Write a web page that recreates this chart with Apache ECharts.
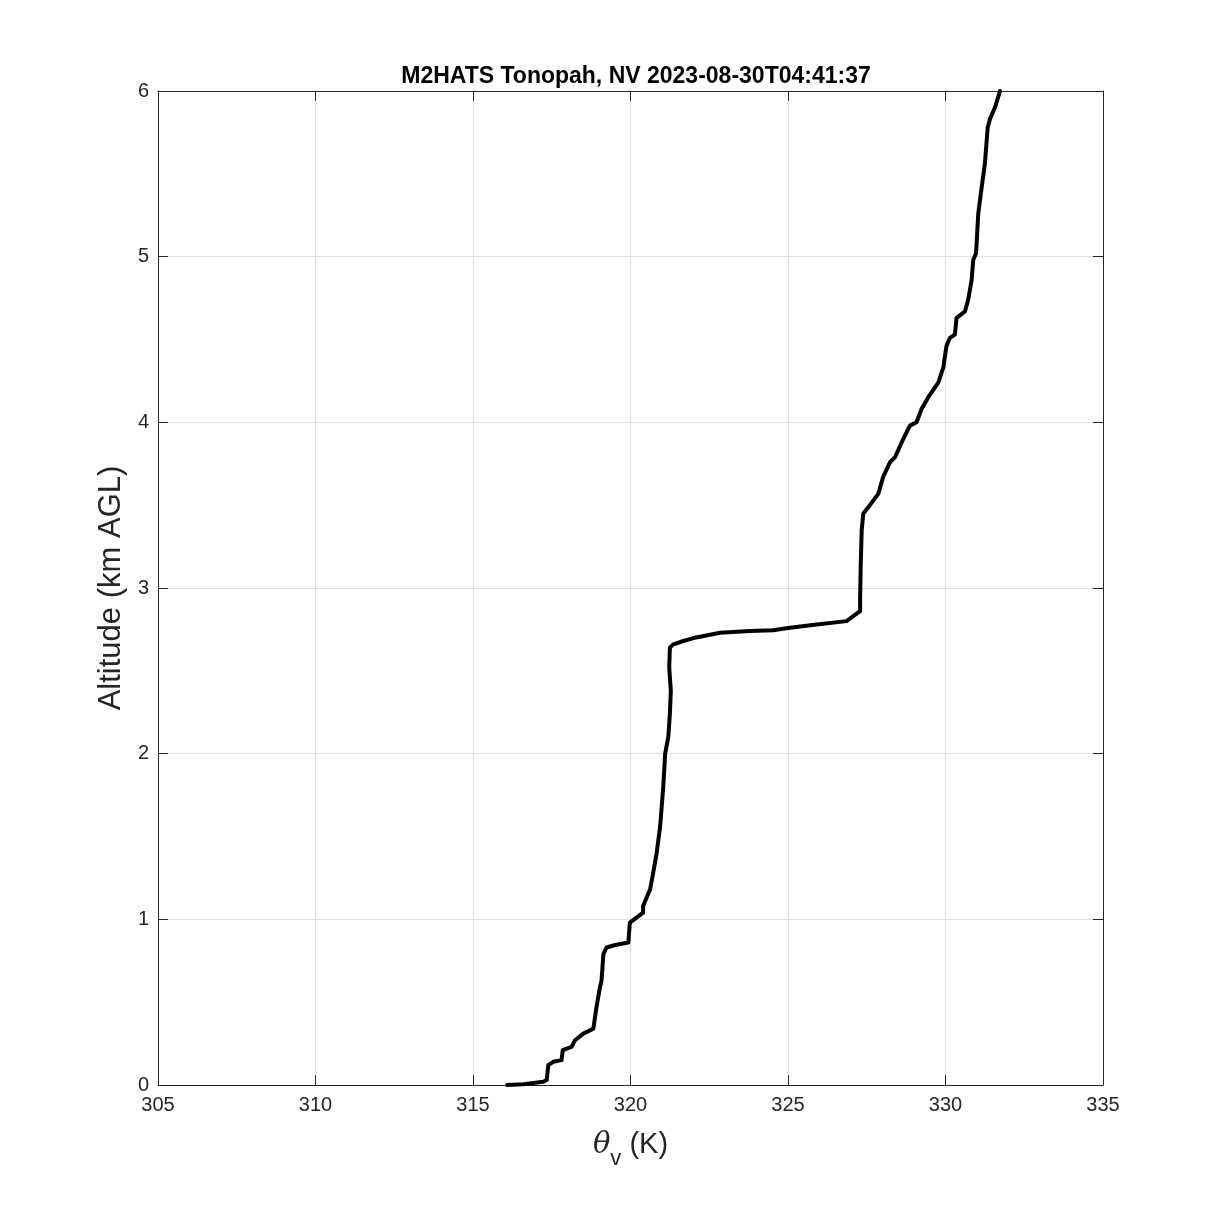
<!DOCTYPE html>
<html>
<head>
<meta charset="utf-8">
<script src="https://cdn.jsdelivr.net/npm/echarts@6/dist/echarts.min.js"></script>
<style>html,body{margin:0;padding:0;background:#fff}#c{width:1219px;height:1219px}</style>
</head>
<body>
<div id="c"></div>
<script>
var titleText = 'M2HATS Tonopah, NV 2023-08-30T04:41:37';
var xTicks = [305, 310, 315, 320, 325, 330, 335];
var yTicks = [0, 1, 2, 3, 4, 5, 6];
var theta = [316.09,316.6,317.23,317.34,317.39,317.55,317.81,317.85,318.13,318.24,318.50,318.82,318.87,318.92,319.03,319.08,319.14,319.24,319.51,319.93,319.98,320.19,320.40,320.40,320.51,320.62,320.72,320.83,320.94,321.04,321.10,321.20,321.25,321.28,321.23,321.25,321.36,321.68,322.05,322.84,323.79,324.53,325.06,325.91,326.86,327.07,327.29,327.29,327.31,327.34,327.39,327.60,327.87,328.02,328.24,328.40,328.61,328.87,329.08,329.24,329.45,329.77,329.93,330.03,330.14,330.30,330.35,330.62,330.72,330.83,330.88,330.97,331.04,331.15,331.25,331.34,331.41,331.57,331.73];
var altitude = [0.00,0.005,0.02,0.03,0.12,0.14,0.15,0.21,0.23,0.27,0.31,0.34,0.35,0.47,0.59,0.63,0.79,0.83,0.845,0.86,0.98,1.01,1.04,1.08,1.13,1.18,1.28,1.40,1.56,1.80,2.00,2.10,2.24,2.38,2.52,2.64,2.66,2.68,2.70,2.73,2.74,2.745,2.76,2.78,2.80,2.83,2.86,2.94,3.15,3.35,3.45,3.50,3.57,3.67,3.76,3.79,3.88,3.98,4.00,4.08,4.15,4.24,4.33,4.46,4.51,4.53,4.63,4.67,4.74,4.86,4.98,5.02,5.26,5.42,5.56,5.78,5.83,5.90,6.00];

var data = theta.map(function(t, i){ return [t, altitude[i]]; });
var font = 'Liberation Sans, Arial, Helvetica, sans-serif';
var axisCol = '#262626';
var chart = echarts.init(document.getElementById('c'));

function xAxisCfg(pos, show) {
  return {
    type: 'value', position: pos, min: xTicks[0], max: xTicks[xTicks.length-1], interval: 5,
    axisLine: {show: true, onZero: false, lineStyle: {color: axisCol, width: 1}},
    axisTick: {show: true, inside: true, length: 10, lineStyle: {color: axisCol}},
    axisLabel: {show: show, color: axisCol, fontSize: 20, fontFamily: font, margin: 10},
    splitLine: {show: show, lineStyle: {color: '#dfdfdf', width: 1}}
  };
}
function yAxisCfg(pos, show) {
  return {
    type: 'value', position: pos, min: yTicks[0], max: yTicks[yTicks.length-1], interval: 1,
    axisLine: {show: true, onZero: false, lineStyle: {color: axisCol, width: 1}},
    axisTick: {show: true, inside: true, length: 10, lineStyle: {color: axisCol}},
    axisLabel: {show: show, color: axisCol, fontSize: 20, fontFamily: font, margin: 9},
    splitLine: {show: show, lineStyle: {color: '#dfdfdf', width: 1}}
  };
}
var xa = xAxisCfg('bottom', true);
xa.name = '{t|θ}{s|v}{n| (K)}';
xa.nameLocation = 'middle';
xa.nameGap = 35;
xa.nameTextStyle = {
  color: axisCol,
  rich: {
    t: {fontSize: 29, fontStyle: 'italic', fontFamily: 'DejaVu Serif, Liberation Serif, serif', color: axisCol, verticalAlign: 'middle', lineHeight: 40},
    s: {fontSize: 22, fontFamily: font, color: axisCol, verticalAlign: 'bottom', lineHeight: 50},
    n: {fontSize: 29, fontFamily: font, color: axisCol, verticalAlign: 'middle', lineHeight: 40}
  }
};
var ya = yAxisCfg('left', true);
ya.name = 'Altitude (km AGL)';
ya.nameLocation = 'middle';
ya.nameGap = 25;
ya.nameTextStyle = {color: axisCol, fontSize: 31, fontFamily: font};

chart.setOption({
  backgroundColor: '#ffffff',
  animation: false,
  title: {
    text: titleText, left: 631, top: 60, textAlign: 'center',
    textStyle: {fontSize: 23, fontWeight: 'bold', color: '#000', fontFamily: font}
  },
  grid: {left: 158, right: 116, top: 91, bottom: 134, containLabel: false},
  xAxis: [xa, xAxisCfg('top', false)],
  yAxis: [ya, yAxisCfg('right', false)],
  series: [{
    type: 'line', xAxisIndex: 0, yAxisIndex: 0, data: data,
    showSymbol: false, smooth: false, clip: true,
    lineStyle: {color: '#000', width: 4, join: 'round', cap: 'round'}
  }]
});
</script>
</body>
</html>
